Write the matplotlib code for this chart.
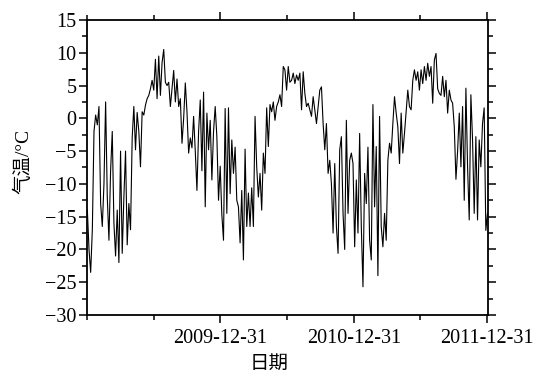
import matplotlib
matplotlib.use('Agg')
import matplotlib.pyplot as plt
import matplotlib.dates as mdates
import pandas as pd

# air temperature (deg C), one value every ~4.5 days from 2009-01-01
t_2009_h1 = [-14, -20, -23.5, -17, -2, 0.5, -1, 1.8, -13, -16.5,
             -10, 2.5, -12, -18.6, -8, -2, -16, -21, -14, -22,
             -5, -20.6, -12, -5, -19.3, -13, -17, -3, 1.8, -4.8,
             0.9, -2, -7.4, 1, 0.5, 2, 3, 3.5, 4.5, 5.8]
t_2009_h2 = [4.3, 9.0, 3.0, 9.5, 3.5, 8.5, 10.5, 5.5, 5.0, 5.5,
             1.8, 4.5, 7.3, 2.5, 6.0, 1.8, 3.0, -3.8, 0, 5.4,
             1.0, -5.3, -3, -4.5, 0.3, -5, -11, -2, 2.8, -8,
             4.0, -13.5, 0.8, -4.8, -0.3, -9.4, -2, 1.8, -2.8, -12.5]
t_2010_h1 = [-7.3, -14.7, -18.6, 1.5, -14.5, 1.6, -11.5, -3.3, -8.4, -4.4,
             -12.5, -13.5, -19, -11, -21.6, -4.7, -16.5, -11.4, -16.5, -10.6,
             -16.5, 0.3, -7.4, -12, -8.4, -14, -5.3, -8.4, 1.6, -4.3,
             2.1, 1, 2.5, -0.3, 1.8, 2.5, 3.6, 1.8, 7.9, 7.4]
t_2010_h2 = [4.3, 7.9, 5.5, 5.8, 6.9, 5.3, 6.6, 5.8, 6.9, 1.3,
             7.1, 3.8, 1.8, 2.3, 1.3, 0.3, 3.3, 1.3, -0.8, 1.8,
             4.3, 4.8, -0.8, -4.8, -0.8, -8.4, -6.4, -10, -17.5, -6.9,
             -16.5, -20.6, -4.8, -2.8, -14.5, -20, -0.3, -14.5, -6.4, -5.3]
t_2011_h1 = [-6.9, -19.6, -9.4, -17.5, -2.3, -16.5, -25.7, -8.4, -13, -4.4,
             -18.6, -21.6, 2.1, -13.5, -4.3, -24, 0.3, -16.5, -19.6, -14.5,
             -18.6, -6.4, -3.8, -5.3, -0.8, 3.3, 0.8, -1.3, -6.9, 0.8,
             -5.3, -2.3, 1.0, 4.3, 1.8, 1.3, 5.8, 7.4, 5.8, 7.1]
t_2011_h2 = [4.3, 7.4, 5.3, 7.9, 5.8, 8.4, 6.4, 7.9, 2.3, 8.9,
             9.9, 4.5, 3.8, 3.5, 6.4, 3.3, 5.8, 0.8, 4.3, 2.8,
             2.3, -1.3, -9.3, -5, 0.8, -7.4, 1.8, -12.5, 4.6, -7.4,
             -15.5, 3.6, -3.3, -14.5, -2.8, -15.5, -3.3, -7.4, -0.8, 1.6,
             -17.1, -14.5]

temps = t_2009_h1 + t_2009_h2 + t_2010_h1 + t_2010_h2 + t_2011_h1 + t_2011_h2
dates = pd.date_range('2009-01-01', periods=len(temps), freq='109h')

major_days = ['2009-12-31', '2010-12-31', '2011-12-31']
minor_days = ['2008-12-31', '2009-07-01', '2010-07-01', '2011-07-01']

plt.rcParams['font.family'] = ['Liberation Serif', 'Noto Sans CJK SC']
plt.rcParams['axes.unicode_minus'] = True

fig = plt.figure(figsize=(5.53, 3.78), dpi=100)
ax = fig.add_axes([0.1573, 0.1667, 0.7252, 0.7804])

ax.plot(dates, temps, color='black', lw=0.8)

ax.set_xlim(pd.Timestamp('2008-12-31'), pd.Timestamp('2012-01-02'))
ax.set_ylim(-30, 15)
ax.set_yticks(range(-30, 16, 5))
ax.set_yticks([v + 2.5 for v in range(-30, 15, 5)], minor=True)

ax.set_xticks(pd.to_datetime(major_days))
ax.set_xticks(pd.to_datetime(minor_days), minor=True)
ax.xaxis.set_major_formatter(mdates.DateFormatter('%Y-%m-%d'))

ax.tick_params(which='both', direction='out', top=True, right=True,
               labelsize=14.5, width=1.1, pad=1.5)
ax.tick_params(axis='x', which='major', pad=4)
ax.tick_params(which='major', length=6)
ax.tick_params(which='minor', length=3.5)
for s in ax.spines.values():
    s.set_linewidth(1.3)

ax.set_ylabel('气温/°C', fontsize=14)
ax.yaxis.set_label_coords(-0.135, 0.52)
ax.set_xlabel('日期', fontsize=14)
ax.xaxis.set_label_coords(0.455, -0.14)

fig.savefig('out.png', dpi=100)
